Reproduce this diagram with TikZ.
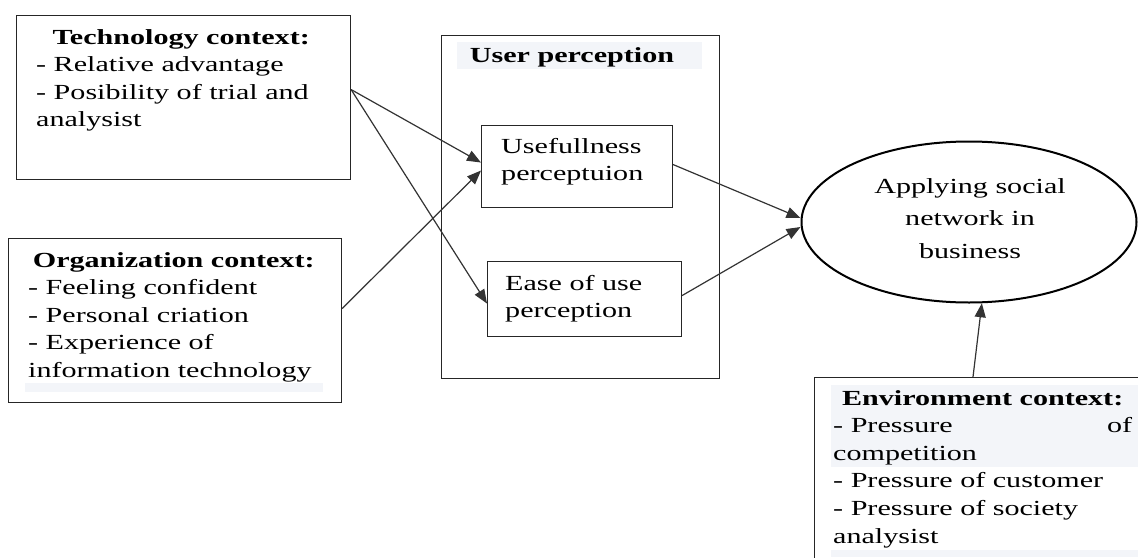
\documentclass[tikz,border=0pt]{standalone}
\usepackage{fontspec}
\setmainfont{Liberation Serif}[FakeStretch=1.4]
\usetikzlibrary{arrows.meta,shapes.geometric}
\definecolor{bandgrey}{RGB}{243,245,249}
\newcommand{\txtsize}{\fontsize{21.5pt}{27.6pt}\selectfont}
\begin{document}
\begin{tikzpicture}[x=1pt,y=-1pt,
  box/.style={draw=black!85, line width=1.1pt, inner sep=0pt, anchor=north west},
  txt/.style={inner sep=0pt, anchor=base west, font=\txtsize},
  band/.style={fill=bandgrey, draw=none},
  conn/.style={draw=black!80, line width=1.2pt, -{Triangle[length=14pt,width=11pt]}}]
\clip (0,0) rectangle (1138,557);
\fill[white] (0,0) rectangle (1138,557);

% light highlight bands behind some text
\path[band] (457,42) rectangle (702,69);
\path[band] (25,383) rectangle (323,392);
\path[band] (831,385) rectangle (1138,467);
\path[band] (831,550) rectangle (1138,557);

% boxes
\node[box, minimum width=334pt, minimum height=164pt] (tech) at (16,15) {};
\node[box, minimum width=333pt, minimum height=164pt] (org) at (8,238) {};
\node[box, minimum width=278pt, minimum height=343pt] (perc) at (441,35) {};
\node[box, minimum width=191pt, minimum height=82pt] (use) at (481,125) {};
\node[box, minimum width=194pt, minimum height=75pt] (ease) at (487,261) {};
\node[box, minimum width=340pt, minimum height=200pt] (env) at (814,377) {};
\node[draw=black, line width=2pt, ellipse, minimum width=335pt, minimum height=161pt, inner sep=0pt] (app) at (969,222) {};

% texts
\node[txt] (techtxt) at (36,44) {\parbox[t]{290pt}{\centering\textbf{Technology context:}\par\raggedright
  - Relative advantage\\- Posibility of trial and\\analysist}};
\node[txt] (orgtxt) at (28,267) {\parbox[t]{291pt}{\centering\textbf{Organization context:}\par\raggedright
  - Feeling confident\\- Personal criation\\- Experience of\\information technology}};
\node[txt, anchor=base] (perctxt) at (572,62) {\textbf{User perception}};
\node[txt] (usetxt) at (501,153) {\parbox[t]{170pt}{\raggedright Usefullness\\perceptuion}};
\node[txt] (easetxt) at (505,290) {\parbox[t]{170pt}{\raggedright Ease of use\\perception}};
\node[txt, anchor=base] (apptxt) at (970,193) {\parbox[t]{300pt}{\centering\fontsize{21.5pt}{32.5pt}\selectfont
  Applying social\\network in\\business}};
\node[txt] (envtxt) at (833,405) {\parbox[t]{299pt}{\centering\textbf{Environment context:}\par\raggedright
  - Pressure\hfill of\\competition\\- Pressure of customer\\- Pressure of society\\analysist}};

% connectors
\draw[conn] ([yshift=8pt]tech.east) -- ([yshift=4pt]use.west);
\draw[conn] ([yshift=8pt]tech.east) -- ([yshift=-4.5pt]ease.west);
\draw[conn] ([yshift=12pt]org.east) -- ([yshift=-4pt]use.west);
\draw[conn] ([yshift=2pt]use.east) -- ([yshift=4pt]app.west);
\draw[conn] ([yshift=3.5pt]ease.east) -- ([yshift=-5pt]app.west);
\draw[conn] ([xshift=159pt]env.north west) -- (app.-81);
\end{tikzpicture}
\end{document}
